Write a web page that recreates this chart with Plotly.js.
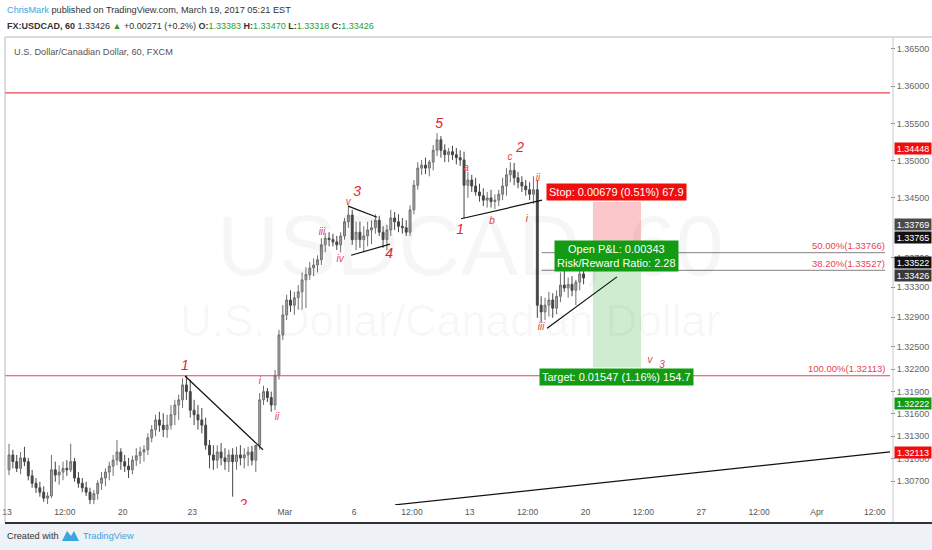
<!DOCTYPE html>
<html>
<head>
<meta charset="utf-8">
<script src="https://cdn.plot.ly/plotly-3.0.1.min.js"></script>
<style>
  html, body { margin: 0; padding: 0; background: #ffffff; }
  #chart { width: 932px; height: 550px; }
</style>
</head>
<body>
<div id="chart"></div>
<script>
// FX:USDCAD 4-hour candles, sessions Mon Feb 13 .. Fri Mar 17 2017 (6 bars per session)
const sessionCount = 25;
const barsPerSession = 6;

const open = [
  1.3085,1.3105,1.3096,1.3087,1.3101,1.3096,
  1.3077,1.3067,1.3061,1.3055,1.3047,1.3050,
  1.3085,1.3078,1.3082,1.3087,1.3085,1.3096,
  1.3074,1.3067,1.3061,1.3055,1.3045,1.3053,
  1.3067,1.3074,1.3082,1.3090,1.3098,1.3109,
  1.3096,1.3090,1.3085,1.3098,1.3104,1.3109,
  1.3112,1.3128,1.3139,1.3152,1.3145,1.3139,
  1.3145,1.3159,1.3172,1.3179,1.3199,1.3190,
  1.3165,1.3159,1.3152,1.3145,1.3118,1.3105,
  1.3098,1.3109,1.3101,1.3096,1.3105,1.3096,
  1.3105,1.3101,1.3105,1.3109,1.3098,1.3118,
  1.3179,1.3190,1.3182,1.3172,1.3212,1.3266,
  1.3293,1.3313,1.3306,1.3316,1.3324,1.3340,
  1.3347,1.3356,1.3360,1.3367,1.3387,1.3396,
  1.3394,1.3391,1.3387,1.3399,1.3418,1.3427,
  1.3394,1.3404,1.3394,1.3399,1.3407,1.3410,
  1.3420,1.3404,1.3394,1.3407,1.3423,1.3418,
  1.3412,1.3410,1.3404,1.3434,1.3467,1.3490,
  1.3494,1.3490,1.3498,1.3514,1.3528,1.3514,
  1.3508,1.3512,1.3508,1.3504,1.3501,1.3467,
  1.3474,1.3466,1.3458,1.3453,1.3447,1.3450,
  1.3445,1.3447,1.3455,1.3466,1.3481,1.3487,
  1.3477,1.3471,1.3466,1.3461,1.3455,1.3461,
  1.3306,1.3297,1.3306,1.3313,1.3302,1.3318,
  1.3333,1.3329,1.3334,1.3326,1.3337,1.3348
];
const high = [
  1.3120,1.3112,1.3105,1.3109,1.3116,1.3101,
  1.3085,1.3074,1.3069,1.3063,1.3055,1.3105,
  1.3096,1.3091,1.3096,1.3098,1.3120,1.3101,
  1.3082,1.3074,1.3069,1.3061,1.3058,1.3071,
  1.3082,1.3087,1.3096,1.3105,1.3125,1.3114,
  1.3105,1.3101,1.3104,1.3114,1.3116,1.3118,
  1.3134,1.3145,1.3159,1.3163,1.3161,1.3159,
  1.3172,1.3179,1.3186,1.3208,1.3212,1.3206,
  1.3179,1.3172,1.3168,1.3155,1.3125,1.3118,
  1.3118,1.3121,1.3114,1.3112,1.3114,1.3116,
  1.3118,1.3114,1.3116,1.3117,1.3112,1.3188,
  1.3198,1.3195,1.3190,1.3219,1.3273,1.3306,
  1.3320,1.3326,1.3324,1.3333,1.3350,1.3357,
  1.3364,1.3369,1.3373,1.3396,1.3403,1.3404,
  1.3402,1.3399,1.3404,1.3423,1.3440,1.3434,
  1.3418,1.3418,1.3412,1.3418,1.3420,1.3428,
  1.3426,1.3412,1.3414,1.3434,1.3431,1.3428,
  1.3423,1.3420,1.3440,1.3474,1.3498,1.3501,
  1.3504,1.3501,1.3521,1.3537,1.3533,1.3522,
  1.3517,1.3520,1.3517,1.3514,1.3512,1.3485,
  1.3481,1.3477,1.3469,1.3463,1.3458,1.3461,
  1.3455,1.3461,1.3477,1.3490,1.3498,1.3497,
  1.3485,1.3479,1.3474,1.3471,1.3479,1.3474,
  1.3318,1.3316,1.3324,1.3322,1.3326,1.3350,
  1.3353,1.3343,1.3345,1.3340,1.3353,1.3356
];
const low = [
  1.3078,1.3087,1.3082,1.3079,1.3090,1.3071,
  1.3061,1.3054,1.3049,1.3042,1.3039,1.3047,
  1.3069,1.3065,1.3071,1.3077,1.3082,1.3069,
  1.3061,1.3055,1.3050,1.3039,1.3039,1.3045,
  1.3058,1.3063,1.3071,1.3077,1.3091,1.3085,
  1.3082,1.3074,1.3079,1.3090,1.3093,1.3096,
  1.3105,1.3122,1.3130,1.3136,1.3129,1.3128,
  1.3139,1.3145,1.3152,1.3168,1.3179,1.3155,
  1.3145,1.3139,1.3134,1.3112,1.3087,1.3085,
  1.3087,1.3091,1.3085,1.3082,1.3049,1.3085,
  1.3091,1.3087,1.3090,1.3091,1.3082,1.3112,
  1.3172,1.3176,1.3163,1.3165,1.3206,1.3259,
  1.3286,1.3297,1.3293,1.3300,1.3300,1.3302,
  1.3340,1.3345,1.3350,1.3360,1.3377,1.3385,
  1.3385,1.3380,1.3377,1.3394,1.3410,1.3387,
  1.3380,1.3383,1.3377,1.3385,1.3388,1.3402,
  1.3399,1.3383,1.3380,1.3399,1.3407,1.3404,
  1.3402,1.3399,1.3399,1.3428,1.3461,1.3481,
  1.3482,1.3479,1.3487,1.3506,1.3504,1.3498,
  1.3498,1.3501,1.3495,1.3493,1.3423,1.3450,
  1.3458,1.3453,1.3445,1.3439,1.3437,1.3437,
  1.3435,1.3439,1.3447,1.3453,1.3471,1.3467,
  1.3463,1.3458,1.3453,1.3447,1.3442,1.3289,
  1.3283,1.3286,1.3291,1.3289,1.3294,1.3310,
  1.3324,1.3316,1.3318,1.3306,1.3326,1.3334
];
const close = [
  1.3105,1.3096,1.3087,1.3101,1.3096,1.3077,
  1.3067,1.3061,1.3055,1.3047,1.3050,1.3085,
  1.3078,1.3082,1.3087,1.3085,1.3096,1.3074,
  1.3067,1.3061,1.3055,1.3045,1.3053,1.3067,
  1.3074,1.3082,1.3090,1.3098,1.3109,1.3096,
  1.3090,1.3085,1.3098,1.3104,1.3109,1.3112,
  1.3128,1.3139,1.3152,1.3145,1.3139,1.3145,
  1.3159,1.3172,1.3179,1.3199,1.3190,1.3165,
  1.3159,1.3152,1.3145,1.3118,1.3105,1.3098,
  1.3109,1.3101,1.3096,1.3105,1.3096,1.3105,
  1.3101,1.3105,1.3109,1.3098,1.3118,1.3179,
  1.3190,1.3182,1.3172,1.3212,1.3266,1.3293,
  1.3313,1.3306,1.3316,1.3324,1.3340,1.3347,
  1.3356,1.3360,1.3367,1.3387,1.3396,1.3394,
  1.3391,1.3387,1.3399,1.3418,1.3427,1.3394,
  1.3404,1.3394,1.3399,1.3407,1.3410,1.3420,
  1.3404,1.3394,1.3407,1.3423,1.3418,1.3412,
  1.3410,1.3404,1.3434,1.3467,1.3490,1.3494,
  1.3490,1.3498,1.3514,1.3528,1.3514,1.3508,
  1.3512,1.3508,1.3504,1.3501,1.3467,1.3474,
  1.3466,1.3458,1.3453,1.3447,1.3450,1.3445,
  1.3447,1.3455,1.3466,1.3481,1.3487,1.3477,
  1.3471,1.3466,1.3461,1.3455,1.3461,1.3306,
  1.3297,1.3306,1.3313,1.3302,1.3318,1.3333,
  1.3329,1.3334,1.3326,1.3337,1.3348,1.33426
];

// last hourly bar shown in the symbol line
const lastBar = {o: 1.33383, h: 1.33470, l: 1.33318, c: 1.33426, chg: 0.00271, chgPct: 0.2};

// time axis: one unit per trading session, weekend gaps removed
const tickPos  = [0, 2.5, 5, 8, 12, 15, 17.5, 20, 22.5, 25, 27.5, 30, 32.5, 35, 37.5];
const tickText = ['13','12:00','20','23','Mar','6','12:00','13','12:00','20','12:00','27','12:00','Apr','12:00'];

// price axis labels
const priceTicks = [1.307,1.310,1.313,1.316,1.319,1.322,1.325,1.329,1.333,1.337,1.345,1.350,1.355,1.360,1.365];

// drawings: [session time, price] endpoints
const trendLines = [
  [[7.69, 1.3211], [11.06, 1.3112]],
  [[14.74, 1.3439], [15.99, 1.3424]],
  [[14.87, 1.3373], [16.55, 1.3388]],
  [[19.62, 1.3422], [23.12, 1.3447]],
  [[23.34, 1.3275], [26.36, 1.3344]],
  [[16.77, 1.3038], [38.16, 1.3109]]
];
const redLevels = [1.3591, 1.32113];
const fibLevels = [
  {ratio: '50.00%', price: 1.33766},
  {ratio: '38.20%', price: 1.33527},
  {ratio: '100.00%', price: 1.32113}
];
const fibStart = 23.1;

// short position tool
const entry = 1.33769, stopPrice = 1.34448, targetPrice = 1.32222;
const posStart = 25.32, posEnd = 27.40;

// Elliott wave counts
const waveBig = [
  {t: '1', x: 7.69, y: 1.32231}, {t: '2', x: 10.20, y: 1.30365},
  {t: '3', x: 15.13, y: 1.34579}, {t: '4', x: 16.51, y: 1.33734},
  {t: '5', x: 18.67, y: 1.35492}, {t: '1', x: 19.58, y: 1.34069},
  {t: '2', x: 22.17, y: 1.35170}
];
const waveSmall = [
  {t: 'a', x: 19.84, y: 1.34901}, {t: 'b', x: 20.96, y: 1.34177},
  {t: 'c', x: 21.74, y: 1.35036}, {t: 'i', x: 22.47, y: 1.34217},
  {t: 'ii', x: 22.95, y: 1.34767}, {t: 'iii', x: 23.08, y: 1.32767},
  {t: 'i', x: 10.93, y: 1.32042}, {t: 'ii', x: 11.67, y: 1.31559},
  {t: 'iii', x: 13.61, y: 1.34042}, {t: 'iv', x: 14.39, y: 1.33680},
  {t: 'v', x: 14.74, y: 1.34432}, {t: 'v', x: 27.79, y: 1.32324},
  {t: '3', x: 28.31, y: 1.32244}
];

// price-scale labels
const axisTags = [
  {v: '1.34448', bg: '#f20d0d', y: 148},
  {v: '1.33769', bg: '#4a4a4a', y: 224},
  {v: '1.33765', bg: '#111111', y: 237},
  {v: '1.33522', bg: '#111111', y: 262},
  {v: '1.33426', bg: '#3a3a3a', y: 275},
  {v: '1.32222', bg: '#139b13', y: 403},
  {v: '1.32113', bg: '#f20d0d', y: 452}
];

// ---- geometry helpers (plot area: x 5..890, y 37..505) ----
const PL = 5, PR = 890, PT = 37, PB = 505;
const px = x => (x - PL) / (PR - PL);
const py = y => (PB - y) / (PB - PT);
const X0 = -0.09, X1 = 38.16;

const xs = open.map((_, i) => Math.floor(i / barsPerSession) + ((i % barsPerSession) + 0.5) / barsPerSession);

const candles = {
  type: 'candlestick', x: xs, open: open, high: high, low: low, close: close,
  increasing: {line: {color: '#707070', width: 1}, fillcolor: '#a8a8a8'},
  decreasing: {line: {color: '#454545', width: 1}, fillcolor: '#454545'},
  whiskerwidth: 0, hoverinfo: 'skip', showlegend: false
};

const baseFont = 'Liberation Sans, Arial, sans-serif';

const waveFont = {family: baseFont, color: '#e3262f', style: 'italic'};
const bigWaves = {
  type: 'scatter', mode: 'text', x: waveBig.map(w => w.x), y: waveBig.map(w => w.y),
  text: waveBig.map(w => w.t), textfont: Object.assign({size: 14}, waveFont),
  cliponaxis: true, hoverinfo: 'skip', showlegend: false
};
const smallWaves = {
  type: 'scatter', mode: 'text', x: waveSmall.map(w => w.x), y: waveSmall.map(w => w.y),
  text: waveSmall.map(w => w.t), textfont: Object.assign({size: 10}, waveFont, {color: '#e8434f'}),
  cliponaxis: true, hoverinfo: 'skip', showlegend: false
};

const shapes = [];
// position zones
shapes.push({type: 'rect', xref: 'x', yref: 'y', x0: posStart, x1: posEnd, y0: entry, y1: stopPrice,
  fillcolor: 'rgba(242,54,69,0.28)', line: {width: 0}, layer: 'below'});
shapes.push({type: 'rect', xref: 'x', yref: 'y', x0: posStart, x1: posEnd, y0: targetPrice, y1: entry,
  fillcolor: 'rgba(40,170,40,0.22)', line: {width: 0}, layer: 'below'});
// horizontal red levels
redLevels.forEach(p => shapes.push({type: 'line', xref: 'x', yref: 'y', x0: X0, x1: X1, y0: p, y1: p,
  line: {color: '#e8434f', width: 1.2}}));
// fib levels (the 100% level coincides with a red level)
fibLevels.slice(0, 2).forEach(f => shapes.push({type: 'line', xref: 'x', yref: 'y', x0: fibStart, x1: 37.95,
  y0: f.price, y1: f.price, line: {color: '#9a9a9a', width: 1.2}}));
// trend lines
trendLines.forEach(l => shapes.push({type: 'line', xref: 'x', yref: 'y',
  x0: l[0][0], y0: l[0][1], x1: l[1][0], y1: l[1][1], line: {color: '#111', width: 1.2}}));
// panel frame and footer
shapes.push({type: 'line', xref: 'paper', yref: 'paper', x0: px(5), x1: px(5), y0: py(37), y1: py(523),
  line: {color: '#b8b8b8', width: 1}});
shapes.push({type: 'line', xref: 'paper', yref: 'paper', x0: px(5), x1: px(932), y0: py(37), y1: py(37),
  line: {color: '#b8b8b8', width: 1}});
shapes.push({type: 'line', xref: 'paper', yref: 'paper', x0: px(893), x1: px(893), y0: py(37), y1: py(523),
  line: {color: '#c8c8c8', width: 1}});
shapes.push({type: 'rect', xref: 'paper', yref: 'paper', x0: px(0), x1: px(932), y0: py(524), y1: py(550),
  fillcolor: '#eef1f5', line: {width: 0}, layer: 'below'});
shapes.push({type: 'line', xref: 'paper', yref: 'paper', x0: px(5), x1: px(932), y0: py(523), y1: py(523),
  line: {color: '#333333', width: 2}});

const ann = [];
// watermark
ann.push({xref: 'paper', yref: 'paper', x: px(470), y: py(245), text: 'USDCAD, 60', showarrow: false,
  font: {family: baseFont, size: 86, color: 'rgba(0,0,0,0.035)'}});
ann.push({xref: 'paper', yref: 'paper', x: px(450), y: py(320), text: 'U.S. Dollar/Canadian Dollar', showarrow: false,
  font: {family: baseFont, size: 44, color: 'rgba(0,0,0,0.035)'}});
// header
const g = s => '<span style="color:#2ca02c">' + s + '</span>';
ann.push({xref: 'paper', yref: 'paper', x: px(5), y: py(10), xanchor: 'left', yanchor: 'middle', showarrow: false,
  text: '<span style="color:#3ba5e0">ChrisMark</span> published on TradingView.com, March 19, 2017 05:21 EST',
  font: {family: baseFont, size: 9.2, color: '#333'}});
ann.push({xref: 'paper', yref: 'paper', x: px(5), y: py(26), xanchor: 'left', yanchor: 'middle', showarrow: false,
  text: '<b>FX:USDCAD, 60</b> ' + lastBar.c.toFixed(5) + ' ' + g('▲') + ' +' + lastBar.chg.toFixed(5) +
        ' (+' + lastBar.chgPct.toFixed(1) + '%) ' +
        '<b>O:</b>' + g(lastBar.o.toFixed(5)) + ' <b>H:</b>' + g(lastBar.h.toFixed(5)) + ' ' +
        '<b>L:</b>' + g(lastBar.l.toFixed(5)) + ' <b>C:</b>' + g(lastBar.c.toFixed(5)),
  font: {family: baseFont, size: 9, color: '#333'}});
ann.push({xref: 'paper', yref: 'paper', x: px(12), y: py(52), xanchor: 'left', yanchor: 'middle', showarrow: false,
  text: 'U.S. Dollar/Canadian Dollar, 60, FXCM', font: {family: baseFont, size: 9.2, color: '#555'}});
// fib labels
fibLevels.forEach(f => ann.push({xref: 'paper', yref: 'y', x: px(887), y: f.price, yshift: 7,
  xanchor: 'right', yanchor: 'middle', showarrow: false, text: f.ratio + '(' + f.price.toFixed(5) + ')',
  font: {family: baseFont, size: 9.5, color: '#e8434f'}}));
// position tool labels
const risk = stopPrice - entry, reward = entry - targetPrice, pnl = entry - close[close.length - 1];
const mid = (posStart + posEnd) / 2;
ann.push({xref: 'x', yref: 'y', x: mid, y: stopPrice, yshift: 10, showarrow: false,
  text: 'Stop: ' + risk.toFixed(5) + ' (' + (risk / entry * 100).toFixed(2) + '%) ' + (risk * 10000).toFixed(1),
  bgcolor: '#f20d0d', borderpad: 2, font: {family: baseFont, size: 11, color: '#fff'}});
ann.push({xref: 'x', yref: 'y', x: mid, y: entry, yshift: -4, showarrow: false,
  text: 'Open P&L: ' + pnl.toFixed(5) + '<br>Risk/Reward Ratio: ' + (reward / risk).toFixed(2),
  bgcolor: '#139b13', borderpad: 2, font: {family: baseFont, size: 11, color: '#fff'}});
ann.push({xref: 'x', yref: 'y', x: mid, y: targetPrice, yshift: -9, showarrow: false,
  text: 'Target: ' + reward.toFixed(5) + ' (' + (reward / entry * 100).toFixed(2) + '%) ' + (reward * 10000).toFixed(1),
  bgcolor: '#139b13', borderpad: 2, font: {family: baseFont, size: 11, color: '#fff'}});
// price-scale tags
axisTags.forEach(t => ann.push({xref: 'paper', yref: 'paper', x: px(894), y: py(t.y), xanchor: 'left', yanchor: 'middle',
  showarrow: false, text: t.v, bgcolor: t.bg, width: 36, height: 11, borderpad: 0,
  font: {family: baseFont, size: 9, color: '#fff'}}));
// footer
ann.push({xref: 'paper', yref: 'paper', x: px(5), y: py(536), xanchor: 'left', yanchor: 'middle', showarrow: false,
  text: 'Created with', font: {family: baseFont, size: 9.2, color: '#333'}});
ann.push({xref: 'paper', yref: 'paper', x: px(81), y: py(536), xanchor: 'left', yanchor: 'middle', showarrow: false,
  text: 'TradingView', font: {family: baseFont, size: 9.2, color: '#3ba5e0'}});
// logo mark
shapes.push({type: 'path', xref: 'paper', yref: 'paper',
  path: `M ${px(62)} ${py(541)} L ${px(67)} ${py(531)} L ${px(71)} ${py(536)} L ${px(74)} ${py(531)} L ${px(79)} ${py(541)} Z`,
  fillcolor: '#3ba5e0', line: {width: 0}});

const layout = {
  width: 932, height: 550,
  margin: {l: PL, r: 932 - PR, t: PT, b: 550 - PB},
  paper_bgcolor: '#ffffff', plot_bgcolor: '#ffffff',
  showlegend: false,
  xaxis: {
    range: [X0, X1], tickvals: tickPos, ticktext: tickText, showgrid: false, zeroline: false,
    rangeslider: {visible: false}, ticks: '', tickfont: {family: baseFont, size: 8.5, color: '#555'},
    fixedrange: true
  },
  yaxis: {
    side: 'right', range: [1.30378, 1.36660], tickvals: priceTicks,
    ticktext: priceTicks.map(v => v.toFixed(5)), showgrid: false, zeroline: false,
    ticks: 'outside', ticklen: 4, tickcolor: '#888', tickfont: {family: baseFont, size: 9, color: '#666'},
    fixedrange: true
  },
  shapes: shapes,
  annotations: ann
};

Plotly.newPlot('chart', [candles, bigWaves, smallWaves], layout, {staticPlot: true, displayModeBar: false});
</script>
</body>
</html>
